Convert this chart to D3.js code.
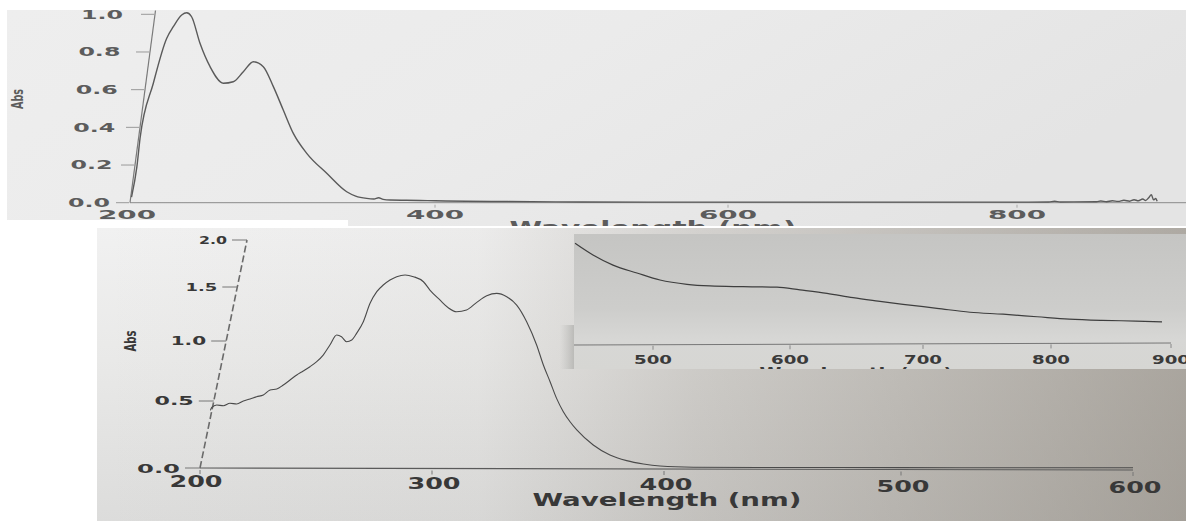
<!DOCTYPE html>
<html><head><meta charset="utf-8">
<script src="https://cdn.jsdelivr.net/npm/d3@7"></script>
<style>html,body{margin:0;padding:0;background:#fff;overflow:hidden}svg{display:block}</style>
</head><body><svg id="chart" width="1186" height="521"></svg>
<script>
// ---------------- DATA ----------------
// Top spectrum (200-900 nm)
const topWavelength = [201,204.5,206.6,215.3,224.1,228.4,233.9,237.2,240.4,245.9,252.5,261.2,267.7,274.3,280.9,287.4,294,300.5,307.1,315.9,329,342.1,348,355.2,360,363,366,370.5,390,400,450,500,600,700,800,822,826,830,855,858,862,866,870,874,878,881,884,887,889,891,893,894.5,896,897];
const topAbs        = [0.03,0.19,0.342,0.634,0.873,0.934,0.996,1.008,0.987,0.846,0.722,0.634,0.642,0.695,0.748,0.722,0.616,0.492,0.368,0.262,0.156,0.058,0.035,0.023,0.02,0.026,0.018,0.014,0.012,0.01,0.006,0.004,0.003,0.003,0.003,0.004,0.008,0.004,0.005,0.009,0.005,0.01,0.007,0.013,0.008,0.016,0.01,0.02,0.012,0.025,0.042,0.015,0.022,0.008];
const topXTicks = [200,400,600,800];
const topYTicks = [0,0.2,0.4,0.6,0.8,1.0];

// Bottom spectrum (200-600 nm)
const botWavelength = [204.5,205,207.2,210.1,212.9,215.8,218.7,221.6,224.4,227.3,230.2,233.1,235.9,238.8,241.7,244.5,247.4,250.3,253.1,256,258.9,261,263.2,265.4,267.5,270.4,273.3,276.2,279,281.9,284.8,288.4,292,296.3,299.1,303.4,307,310.6,314.9,319.3,323.6,327.9,332.2,336.5,340.8,345.1,348,350.9,353.7,356.6,359.5,362.4,369.5,376.7,383.9,391.1,398.3,412.5,440,500,550,600];
const botAbs        = [0.43,0.45,0.47,0.465,0.483,0.478,0.5,0.517,0.536,0.55,0.592,0.6,0.633,0.675,0.717,0.75,0.786,0.828,0.883,0.967,1.056,1.04,0.994,1.009,1.071,1.179,1.349,1.457,1.521,1.574,1.61,1.628,1.61,1.556,1.472,1.38,1.308,1.271,1.287,1.358,1.419,1.441,1.41,1.333,1.179,0.967,0.8,0.661,0.522,0.42,0.345,0.284,0.172,0.097,0.055,0.03,0.015,0.006,0.004,0.003,0.002,0.002];
const botXTicks = [200,300,400,500,600];
const botYTicks = [0,0.5,1.0,1.5,2.0];

// Inset (visible region, 440-900 nm)
const insetWavelength = [443.1,456.2,470.8,488.3,505.1,524.8,541.6,565.7,590.5,607.5,627.8,647.4,666.2,685,710.9,736.7,762.5,789.1,815,842.5,870.8,892.5];
const insetAbs        = [0.0565,0.05,0.0444,0.04,0.0361,0.0337,0.0328,0.0324,0.0321,0.0306,0.0287,0.0263,0.0244,0.0226,0.0204,0.0182,0.0171,0.0157,0.0144,0.0137,0.0133,0.0129];
const insetXTicks = [500,600,700,800,900];

const xLabel = "Wavelength (nm)";
const yLabel = "Abs";

// ---------------- SETUP ----------------
const svg = d3.select('#chart');
const defs = svg.append('defs');
const FONT = "'DejaVu Sans', Verdana, sans-serif";

function grad(id, x1, y1, x2, y2, stops) {
  const g = defs.append('linearGradient').attr('id', id)
    .attr('x1', x1).attr('y1', y1).attr('x2', x2).attr('y2', y2);
  stops.forEach(([o, c, a]) => g.append('stop').attr('offset', o)
    .attr('stop-color', c).attr('stop-opacity', a == null ? 1 : a));
}
function clip(id, x, y, w, h) {
  defs.append('clipPath').attr('id', id).append('rect')
    .attr('x', x).attr('y', y).attr('width', w).attr('height', h);
}
function sText(g, str, cx, base, size, len, color, anchor) {
  const x0 = anchor === 'end' ? cx - len : (anchor === 'start' ? cx : cx - len / 2);
  return g.append('text').attr('x', x0).attr('y', base)
    .attr('font-family', FONT).attr('font-weight', 'bold').attr('font-size', size)
    .attr('textLength', len).attr('lengthAdjust', 'spacingAndGlyphs')
    .attr('fill', color).text(str);
}
function vText(g, str, cx, cy, size, len, color) {
  const t = g.append('g').attr('transform', `translate(${cx},${cy}) rotate(-90)`);
  sText(t, str, 0, size * 0.36, size, len, color);
}

grad('topBg', 0, 0, 1, 0.3, [[0, '#eeeeee'], [0.5, '#ebebeb'], [1, '#e4e4e4']]);
grad('botBase', 0, 0, 0, 1, [[0, '#f1f1f1'], [0.45, '#e9e9e8'], [1, '#dcdcdb']]);
grad('botShade', 0, 0, 1, 0, [[0, '#6b6255', 0], [0.35, '#6b6255', 0.04], [0.55, '#6b6255', 0.22], [1, '#6b6255', 0.5]]);
grad('insetBg', 0, 0, 0, 1, [[0, '#c5c5c3'], [0.55, '#cdcdcb'], [0.78, '#d7d7d5'], [1, '#d6d6d3']]);
grad('insetSide', 0, 0, 1, 0, [[0, '#bdbdbb', 0], [1, '#b3b3b0', 0.8]]);

// ---------------- TOP PANEL ----------------
const TP = {x: 7, y: 10, w: 1179, h: 216};
clip('clipTop', TP.x, TP.y, TP.w, TP.h);
svg.append('rect').attr('x', TP.x).attr('y', TP.y).attr('width', TP.w).attr('height', TP.h).attr('fill', 'url(#topBg)');
const topG = svg.append('g').attr('clip-path', 'url(#clipTop)');

const xTop = d3.scaleLinear().domain([200, 400, 600, 800]).range([130, 435, 728, 1017]);
const yTop = d3.scaleLinear().domain([0, 1]).range([202.7, 14.3]);
const topSlant = 25; // px of lean of the photographed axis per unit Abs
const topAxisX = v => xTop(200) + v * topSlant;
const topColor = '#5c5c5c';

topG.append('line').attr('x1', xTop(200)).attr('y1', yTop(0)).attr('x2', 1186).attr('y2', yTop(0))
  .attr('stroke', '#8a8a8a').attr('stroke-width', 1);
topG.append('line').attr('x1', topAxisX(0)).attr('y1', yTop(0)).attr('x2', topAxisX(1.02)).attr('y2', yTop(1.02))
  .attr('stroke', '#7a7a7a').attr('stroke-width', 1.2);
topYTicks.forEach(v => {
  const ax = topAxisX(v), y = yTop(v);
  topG.append('line').attr('x1', ax - 14).attr('x2', ax - 1).attr('y1', y).attr('y2', y)
    .attr('stroke', '#999').attr('stroke-width', 1);
  sText(topG, d3.format('.1f')(v), ax - 20 - 12 * v, y + 4.3, 12, 42, topColor, 'end');
});
topXTicks.forEach(v => {
  if (v > 200) topG.append('line').attr('x1', xTop(v)).attr('x2', xTop(v)).attr('y1', yTop(0) + 2).attr('y2', yTop(0) + 5)
    .attr('stroke', '#aaa').attr('stroke-width', 1);
  sText(topG, String(v), v === 200 ? xTop(v) - 3 : xTop(v), 218.8, 12, 58, topColor);
});
sText(topG, xLabel, 653, 234.6, 20, 287, topColor);
vText(topG, yLabel, 18, 99, 15, 20, topColor);

const topLine = d3.line().x(d => xTop(d[0])).y(d => yTop(d[1])).curve(d3.curveMonotoneX);
topG.append('path').datum(topWavelength.map((w, i) => [w, topAbs[i]]))
  .attr('d', topLine).attr('fill', 'none').attr('stroke', '#5a5a5a').attr('stroke-width', 1.4);

// white margins between the two photos
svg.append('rect').attr('x', 0).attr('y', 220).attr('width', 348).attr('height', 8).attr('fill', '#fff');
svg.append('rect').attr('x', 348).attr('y', 226).attr('width', 838).attr('height', 2).attr('fill', '#fff');

// ---------------- BOTTOM PANEL ----------------
const BP = {x: 97, y: 228, w: 1089, h: 293};
clip('clipBot', BP.x, BP.y, BP.w, BP.h);
svg.append('rect').attr('x', BP.x).attr('y', BP.y).attr('width', BP.w).attr('height', BP.h).attr('fill', 'url(#botBase)');
svg.append('rect').attr('x', BP.x).attr('y', BP.y).attr('width', BP.w).attr('height', BP.h).attr('fill', 'url(#botShade)');
const botG = svg.append('g').attr('clip-path', 'url(#clipBot)');

const xBot = d3.scaleLinear().domain([200, 300, 400, 500, 600]).range([200, 432, 664, 901, 1133]);
const yBot = d3.scaleLinear().domain([0, 0.5, 1.0, 1.5, 2.0]).range([468, 401, 341, 287, 240]);
const botAxisX = v => xBot(200) + (yBot(0) - yBot(v)) / (yBot(0) - yBot(2)) * 47;
const botColor = '#383838';

botG.append('line').attr('x1', xBot(200)).attr('y1', yBot(0)).attr('x2', xBot(600)).attr('y2', yBot(0) + 2)
  .attr('stroke', '#5a5a5a').attr('stroke-width', 1.1);
botG.append('line').attr('x1', botAxisX(0)).attr('y1', yBot(0)).attr('x2', botAxisX(2)).attr('y2', yBot(2))
  .attr('stroke', '#6a6a6a').attr('stroke-width', 1.6).attr('stroke-dasharray', '7,3');
botYTicks.forEach(v => {
  const ax = botAxisX(v), y = yBot(v);
  botG.append('line').attr('x1', ax - 15).attr('x2', ax).attr('y1', y).attr('y2', y)
    .attr('stroke', '#777').attr('stroke-width', 1);
  const size = 13 - 1.5 * v;
  sText(botG, d3.format('.1f')(v), ax - 20, y + size * 0.36, size, 43 - 7.5 * v, botColor, 'end');
});
botXTicks.forEach(v => {
  const y0 = yBot(0) + (v - 200) / 400 * 2;
  botG.append('line').attr('x1', xBot(v)).attr('x2', xBot(v)).attr('y1', y0 + 2).attr('y2', y0 + 6)
    .attr('stroke', '#777').attr('stroke-width', 1);
  sText(botG, String(v), v === 200 ? xBot(v) - 4 : xBot(v) + 2, 487 + (v - 200) * 0.015, 15, 53, botColor);
});
sText(botG, xLabel, 667, 506, 18, 269, botColor);
vText(botG, yLabel, 130, 341, 16, 21, botColor);

const botLine = d3.line().x(d => xBot(d[0])).y(d => yBot(d[1])).curve(d3.curveMonotoneX);
botG.append('path').datum(botWavelength.map((w, i) => [w, botAbs[i]]))
  .attr('d', botLine).attr('fill', 'none').attr('stroke', '#4a4a4a').attr('stroke-width', 1.1);

// ---------------- INSET ----------------
const IP = {x: 574, y: 234, w: 612, h: 135};
clip('clipInset', IP.x, IP.y, IP.w, IP.h);
svg.append('rect').attr('x', IP.x - 14).attr('y', 325).attr('width', 14).attr('height', 44).attr('fill', 'url(#insetSide)');
svg.append('rect').attr('x', IP.x).attr('y', IP.y).attr('width', IP.w).attr('height', IP.h).attr('fill', 'url(#insetBg)');
const insG = svg.append('g').attr('clip-path', 'url(#clipInset)');

const xIn = d3.scaleLinear().domain([500, 600, 700, 800, 900]).range([653, 790, 923, 1051, 1171]);
const yIn = d3.scaleLinear().domain([0, 0.06]).range([345, 237]);
const insColor = '#3a3a3a';

insG.append('line').attr('x1', IP.x).attr('x2', xIn(900)).attr('y1', yIn(0)).attr('y2', yIn(0) - 2)
  .attr('stroke', '#777').attr('stroke-width', 1);
insetXTicks.forEach(v => {
  const y0 = yIn(0) - (v - 440) / 460 * 2;
  insG.append('line').attr('x1', xIn(v)).attr('x2', xIn(v)).attr('y1', y0 + 1).attr('y2', y0 + 5)
    .attr('stroke', '#888').attr('stroke-width', 1);
  sText(insG, String(v), xIn(v), 364, 13, 38, insColor);
});
sText(insG, xLabel, 856, 379, 16, 193, insColor);

const insLine = d3.line().x(d => xIn(d[0])).y(d => yIn(d[1])).curve(d3.curveMonotoneX);
insG.append('path').datum(insetWavelength.map((w, i) => [w, insetAbs[i]]))
  .attr('d', insLine).attr('fill', 'none').attr('stroke', '#3e3e3e').attr('stroke-width', 1.2);
</script>
</body></html>
